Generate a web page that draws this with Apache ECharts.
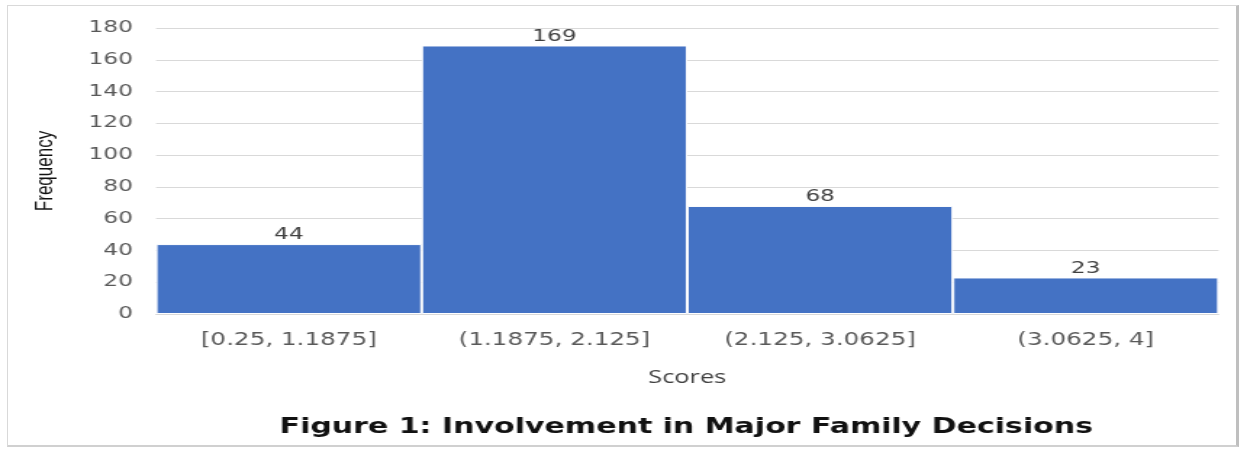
<!DOCTYPE html>
<html><head><meta charset="utf-8">
<script src="https://cdn.jsdelivr.net/npm/echarts@6/dist/echarts.min.js"></script>
<style>html,body{margin:0;padding:0;background:#fff;overflow:hidden}
#frame{position:absolute;left:7px;top:5px;width:1232px;height:442px;border:1px solid #d9d9d9;border-right:3px solid #bfbfbf;border-bottom:2px solid #d0d0d0;box-sizing:border-box}
#c{position:absolute;left:0;top:0;width:858.6px;height:453px;transform:scaleX(1.45);transform-origin:0 0}</style>
</head><body><div id="frame"></div><div id="c"></div>
<script>
const categories = ["[0.25, 1.1875]", "(1.1875, 2.125]", "(2.125, 3.0625]", "(3.0625, 4]"];
const frequencies = [44, 169, 68, 23];
const yTicks = [0, 20, 40, 60, 80, 100, 120, 140, 160, 180];

const S = 1.45;
const chart = echarts.init(document.getElementById('c'), null, {renderer: 'canvas'});
chart.setOption({
  animation: false,
  title: {
    text: 'Figure 1: Involvement in Major Family Decisions',
    left: 679 / S, top: 412, textAlign: 'center',
    textStyle: {fontFamily: '"DejaVu Sans"', fontWeight: 'bold', fontSize: 20.7, color: '#111'}
  },
  grid: {left: 156 / S, right: 27 / S, top: 28, bottom: 139},
  xAxis: {
    type: 'category', data: categories,
    name: 'Scores', nameLocation: 'middle', nameGap: 55,
    nameTextStyle: {fontFamily: '"Open Sans"', fontSize: 17.5, color: '#404040'},
    axisLine: {show: true, lineStyle: {color: '#d9d9d9'}},
    axisTick: {show: false},
    axisLabel: {margin: 18, fontFamily: '"DejaVu Sans"', fontSize: 17, color: '#595959'}
  },
  yAxis: {
    type: 'value', min: yTicks[0], max: yTicks[yTicks.length - 1], interval: 20,
    name: 'Frequency', nameLocation: 'middle', nameGap: 68, nameRotate: 90,
    nameTextStyle: {fontFamily: '"Liberation Sans Narrow", "Liberation Sans"', fontSize: 17, color: '#111'},
    axisLine: {show: false}, axisTick: {show: false},
    axisLabel: {margin: 16, fontFamily: '"DejaVu Sans"', fontSize: 16, color: '#595959'},
    splitLine: {lineStyle: {color: '#d9d9d9', width: 1}}
  },
  series: [{
    type: 'bar', data: frequencies, barCategoryGap: '0%',
    itemStyle: {color: '#4472C4', borderColor: '#ffffff', borderWidth: 1},
    label: {show: true, position: 'top', distance: 1, fontFamily: '"DejaVu Sans"', fontSize: 16, color: '#404040'}
  }]
});
</script></body></html>
